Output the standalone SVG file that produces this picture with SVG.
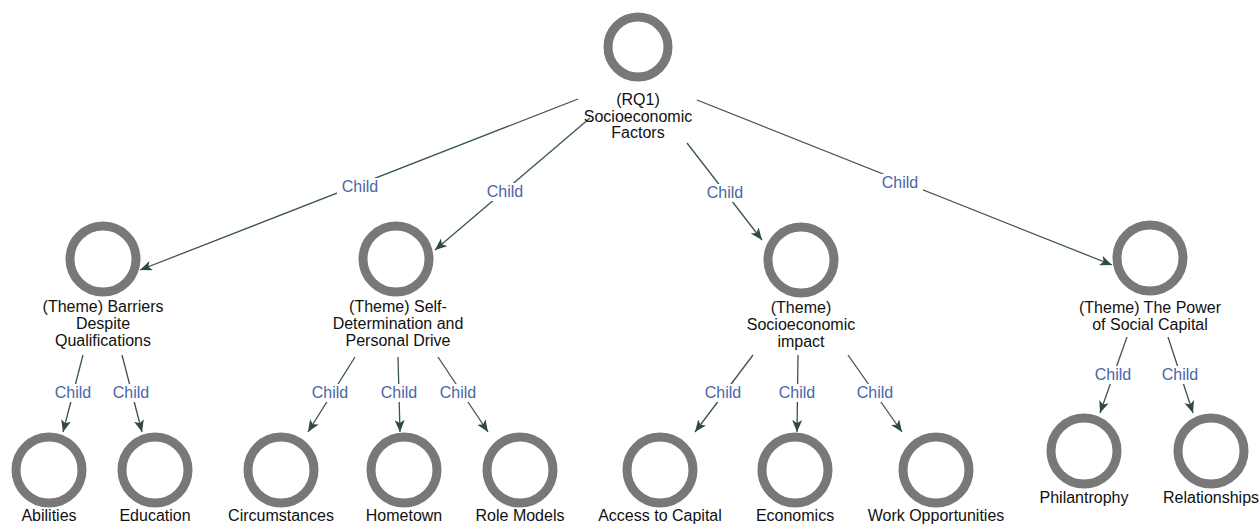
<svg xmlns="http://www.w3.org/2000/svg" width="1260" height="525" viewBox="0 0 1260 525">
<style>
.ring{fill:none;stroke:#787878;stroke-width:9}
.lbl{font-family:"Liberation Sans",Arial,sans-serif;font-size:16px;fill:#111;text-anchor:middle}
.edge{stroke:#3a544f;stroke-width:1.3;fill:none;marker-end:url(#arr)}
.ebg{fill:#fff}
.etx{font-family:"Liberation Sans",Arial,sans-serif;font-size:16px;fill:#4a66a8;text-anchor:middle}
</style>
<defs>
<marker id="arr" markerUnits="userSpaceOnUse" markerWidth="14" markerHeight="12" refX="12" refY="5" orient="auto">
<path d="M0,0 L12,5 L0,10 L3,5 z" fill="#2f4a45"/>
</marker>
</defs>
<rect width="1260" height="525" fill="#fff"/>
<g id="connectors">
<line class="edge" x1="578" y1="99" x2="140" y2="270"/>
<line class="edge" x1="590" y1="118" x2="435" y2="250"/>
<line class="edge" x1="687" y1="143" x2="762" y2="240"/>
<line class="edge" x1="697" y1="100" x2="1112" y2="265"/>
<line class="edge" x1="83" y1="355" x2="63" y2="432"/>
<line class="edge" x1="122" y1="355" x2="142" y2="432"/>
<line class="edge" x1="355" y1="357" x2="308" y2="432"/>
<line class="edge" x1="398" y1="357" x2="400" y2="432"/>
<line class="edge" x1="438" y1="357" x2="488" y2="432"/>
<line class="edge" x1="753" y1="355" x2="695" y2="432"/>
<line class="edge" x1="798" y1="355" x2="797" y2="432"/>
<line class="edge" x1="848" y1="355" x2="902" y2="432"/>
<line class="edge" x1="1127" y1="337" x2="1100" y2="413"/>
<line class="edge" x1="1168" y1="337" x2="1193" y2="413"/>
<rect class="ebg" x="337" y="178" width="46" height="18"/><text class="etx" x="360" y="192">Child</text>
<rect class="ebg" x="482" y="183" width="46" height="18"/><text class="etx" x="505" y="197">Child</text>
<rect class="ebg" x="702" y="184" width="46" height="18"/><text class="etx" x="725" y="198">Child</text>
<rect class="ebg" x="877" y="174" width="46" height="18"/><text class="etx" x="900" y="188">Child</text>
<rect class="ebg" x="50" y="384" width="46" height="18"/><text class="etx" x="73" y="398">Child</text>
<rect class="ebg" x="108" y="384" width="46" height="18"/><text class="etx" x="131" y="398">Child</text>
<rect class="ebg" x="307" y="384" width="46" height="18"/><text class="etx" x="330" y="398">Child</text>
<rect class="ebg" x="376" y="384" width="46" height="18"/><text class="etx" x="399" y="398">Child</text>
<rect class="ebg" x="435" y="384" width="46" height="18"/><text class="etx" x="458" y="398">Child</text>
<rect class="ebg" x="700" y="384" width="46" height="18"/><text class="etx" x="723" y="398">Child</text>
<rect class="ebg" x="774" y="384" width="46" height="18"/><text class="etx" x="797" y="398">Child</text>
<rect class="ebg" x="852" y="384" width="46" height="18"/><text class="etx" x="875" y="398">Child</text>
<rect class="ebg" x="1090" y="366" width="46" height="18"/><text class="etx" x="1113" y="380">Child</text>
<rect class="ebg" x="1157" y="366" width="46" height="18"/><text class="etx" x="1180" y="380">Child</text>
</g>
<g id="node-root">
<circle class="ring" cx="638" cy="47" r="30"/>
<text class="lbl" x="638" y="105">(RQ1)</text>
<text class="lbl" x="638" y="122">Socioeconomic</text>
<text class="lbl" x="638" y="138">Factors</text>
</g>
<g id="node-barriers">
<circle class="ring" cx="103" cy="259" r="33"/>
<text class="lbl" x="103" y="312">(Theme) Barriers</text>
<text class="lbl" x="103" y="329">Despite</text>
<text class="lbl" x="103" y="346">Qualifications</text>
</g>
<g id="node-selfdet">
<circle class="ring" cx="396" cy="259" r="33"/>
<text class="lbl" x="398" y="312">(Theme) Self-</text>
<text class="lbl" x="398" y="329">Determination and</text>
<text class="lbl" x="398" y="346">Personal Drive</text>
</g>
<g id="node-socioimpact">
<circle class="ring" cx="801" cy="260" r="33"/>
<text class="lbl" x="801" y="313">(Theme)</text>
<text class="lbl" x="801" y="330">Socioeconomic</text>
<text class="lbl" x="801" y="347">impact</text>
</g>
<g id="node-power">
<circle class="ring" cx="1150" cy="258" r="33"/>
<text class="lbl" x="1150" y="313">(Theme) The Power</text>
<text class="lbl" x="1150" y="330">of Social Capital</text>
</g>
<g id="node-abilities">
<circle class="ring" cx="49" cy="470" r="33"/>
<text class="lbl" x="49" y="521">Abilities</text>
</g>
<g id="node-education">
<circle class="ring" cx="155" cy="470" r="33"/>
<text class="lbl" x="155" y="521">Education</text>
</g>
<g id="node-circumstances">
<circle class="ring" cx="281" cy="470" r="33"/>
<text class="lbl" x="281" y="521">Circumstances</text>
</g>
<g id="node-hometown">
<circle class="ring" cx="404" cy="470" r="33"/>
<text class="lbl" x="404" y="521">Hometown</text>
</g>
<g id="node-rolemodels">
<circle class="ring" cx="520" cy="470" r="33"/>
<text class="lbl" x="520" y="521">Role Models</text>
</g>
<g id="node-access">
<circle class="ring" cx="660" cy="470" r="33"/>
<text class="lbl" x="660" y="521">Access to Capital</text>
</g>
<g id="node-economics">
<circle class="ring" cx="795" cy="470" r="33"/>
<text class="lbl" x="795" y="521">Economics</text>
</g>
<g id="node-work">
<circle class="ring" cx="936" cy="470" r="33"/>
<text class="lbl" x="936" y="521">Work Opportunities</text>
</g>
<g id="node-philanthropy">
<circle class="ring" cx="1084" cy="451" r="33"/>
<text class="lbl" x="1084" y="503">Philantrophy</text>
</g>
<g id="node-relationships">
<circle class="ring" cx="1211" cy="451" r="33"/>
<text class="lbl" x="1211" y="503">Relationships</text>
</g>
</svg>
